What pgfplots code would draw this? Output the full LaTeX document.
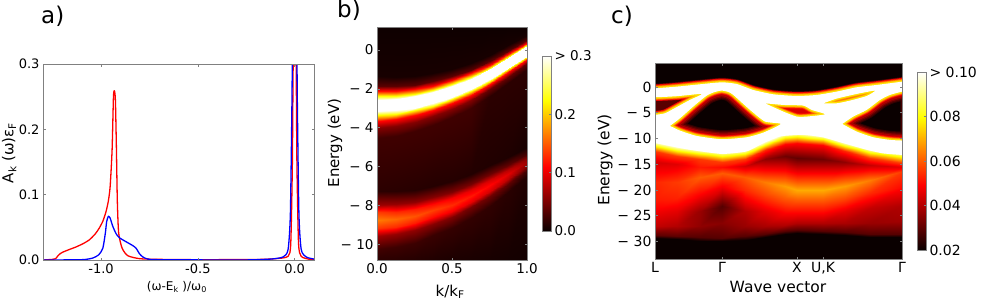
\documentclass[border=0pt]{standalone}
\usepackage{fontspec}
\setmainfont{DejaVu Sans}
\usepackage{pgfplots}
\usepackage{pgfplotstable}
\pgfplotsset{compat=1.18}
\definecolor{frame}{HTML}{808080}
\definecolor{g1}{HTML}{300000}
\definecolor{g2}{HTML}{500000}
\definecolor{g3}{HTML}{800000}
\definecolor{g4}{HTML}{B00000}
\definecolor{g5}{HTML}{F00000}
\definecolor{g55}{HTML}{FF4000}
\definecolor{g6}{HTML}{FF8000}
\definecolor{g65}{HTML}{FFB000}
\definecolor{g7}{HTML}{FFE000}
\pgfplotsset{
 colormap={hotm}{rgb255(0pt)=(10,0,0); rgb255(93pt)=(255,0,0); rgb255(190pt)=(255,255,0); rgb255(255pt)=(255,255,255)},
 every axis/.append style={scale only axis, axis line style={frame,line width=1pt}, tick style={frame,line width=0.7pt}, tick align=inside, major tick length=2.5pt, axis on top},
}
% panel c: outline of the saturated band structure (outer contour and its holes)
\pgfplotstableread{
x y
-6 -0.3
0.7 -0.26
21.7 0.06
45 0.52
66.7 0.9
81.7 0.58
98.3 -0.58
118.3 -1.42
141.7 -1.75
161.7 -1.55
181.7 -0.9
201.7 -0.06
221.7 0.39
247.3 1.03
254 1.1
254 -13.4
247 -13.2
228.3 -12.9
211.7 -12.2
188.3 -10.9
168.3 -9.8
148.3 -9.3
125 -9.6
108.3 -10.9
91.7 -12.5
66.7 -13.0
35 -12.2
18.3 -11.6
0.7 -10.9
-6 -10.5
-6 -0.3
nan nan
-6 -1.9
0.7 -2.0
21.7 -1.8
46.7 -1.36
35 -2.5
21.7 -3.9
10 -5.1
0.7 -5.4
-6 -5.5
-6 -1.9
nan nan
15 -7.56
25 -6.08
38.3 -3.8
51.7 -1.68
60 -0.97
66.7 -0.71
73.3 -0.97
78.3 -1.55
95 -4.46
110 -6.72
125.7 -7.18
108.3 -8.86
91.7 -9.76
66.7 -10.15
41.7 -9.5
25 -8.47
15 -7.56
nan nan
110 -3.17
128.3 -3.49
148.3 -3.62
156.7 -4.46
170 -5.3
151.7 -5.75
141.7 -5.75
128.3 -4.78
110 -3.17
nan nan
168.3 -3.17
181.7 -2.26
201.7 -1.36
220 -0.71
211.7 -1.75
195 -2.65
181.7 -3.17
168.3 -3.17
nan nan
187.3 -7.18
198.3 -5.75
211.7 -4.46
225 -2.52
235 -1.55
247.3 -0.9
254 -0.8
254 -10.4
247.3 -10.4
235 -10.28
218.3 -9.76
201.7 -8.66
187.3 -7.18
}\bandpath
\pgfplotstableread{
x y
15 -7.56
25 -6.08
38.3 -3.8
51.7 -1.68
60 -0.97
66.7 -0.71
73.3 -0.97
78.3 -1.55
95 -4.46
110 -6.72
125.7 -7.18
108.3 -8.86
91.7 -9.76
66.7 -10.15
41.7 -9.5
25 -8.47
15 -7.56
nan nan
187.3 -7.18
198.3 -5.75
211.7 -4.46
225 -2.52
235 -1.55
247.3 -0.9
254 -0.8
254 -10.4
247.3 -10.4
235 -10.28
218.3 -9.76
201.7 -8.66
187.3 -7.18
}\bigholes
\pgfplotstableread{
x y
-6 -1.9
0.7 -2.0
21.7 -1.8
46.7 -1.36
35 -2.5
21.7 -3.9
10 -5.1
0.7 -5.4
-6 -5.5
}\holeA
\pgfplotstableread{
x y
110 -3.17
128.3 -3.49
148.3 -3.62
156.7 -4.46
170 -5.3
151.7 -5.75
141.7 -5.75
128.3 -4.78
}\holeC
\pgfplotstableread{
x y
168.3 -3.17
181.7 -2.26
201.7 -1.36
220 -0.71
211.7 -1.75
195 -2.65
181.7 -3.17
}\holeD
\newcommand\glow[3]{\addplot[draw=#2, line width=#3, no marks, forget plot, smooth, tension=0.35, line join=round, unbounded coords=jump] table {#1};}
\begin{document}
\begin{tikzpicture}
\path[use as bounding box] (0,0) rectangle (981pt,306pt);
%---------------- a
\begin{axis}[at={(43pt,46pt)}, anchor=south west, width=271pt, height=196pt,
 xmin=-1.3, xmax=0.1, ymin=0, ymax=0.3,
 xtick={-1,-0.5,0}, xticklabels={-1.0,-0.5,0.0},
 ytick={0,0.1,0.2,0.3}, yticklabels={0.0,0.1,0.2,0.3},
 tick label style={font=\fontsize{13}{15}\selectfont},
 xlabel={(ω-E\textsubscript{k} )/ω\textsubscript{0}}, ylabel={A\textsubscript{k} (ω)ε\textsubscript{F}},
 label style={font=\fontsize{12}{14}\selectfont},
 xlabel style={at={(axis description cs:0.494,-0.138)}, anchor=center},
 ylabel style={at={(axis description cs:-0.125,0.546)}, anchor=center, font=\fontsize{15}{17}\selectfont}]
\addplot[red, line width=1.3pt, line join=round, smooth, tension=0.4] coordinates {
(-1.3,0)(-1.25,0.001)(-1.235,0.002)(-1.224,0.006)(-1.21,0.010)(-1.198,0.012)(-1.165,0.016)(-1.129,0.02)(-1.09,0.0255)(-1.06,0.031)(-1.03,0.040)(-1.009,0.049)(-0.99,0.060)(-0.974,0.0745)(-0.962,0.091)(-0.953,0.113)(-0.943,0.169)(-0.936,0.25)(-0.931,0.259)(-0.926,0.245)(-0.921,0.175)(-0.916,0.09)(-0.909,0.041)(-0.891,0.018)(-0.862,0.0066)(-0.8,0.002)(-0.7,0.001)(-0.5,0.0005)(-0.2,0.0008)(-0.1,0.002)(-0.034,0.0056)(-0.02,0.026)(-0.012,0.143)(-0.0086,0.27)(-0.007,0.32)};
\addplot[red, line width=1.3pt, line join=round, smooth, tension=0.4, forget plot] coordinates {
(0.007,0.32)(0.0086,0.27)(0.012,0.143)(0.02,0.026)(0.034,0.0056)(0.078,0.001)(0.1,0.0005)};
\addplot[blue, line width=1.3pt, line join=round, smooth, tension=0.4] coordinates {
(-1.3,0)(-1.1,0.0005)(-1.043,0.003)(-1.012,0.008)(-0.991,0.018)(-0.978,0.041)(-0.971,0.059)(-0.962,0.067)(-0.953,0.064)(-0.94,0.052)(-0.922,0.04)(-0.905,0.034)(-0.871,0.028)(-0.836,0.022)(-0.819,0.018)(-0.802,0.0097)(-0.784,0.0046)(-0.759,0.0015)(-0.7,0.0005)(-0.3,0)(-0.2,0.0005)(-0.12,0.0015)(-0.06,0.0046)(-0.034,0.016)(-0.022,0.072)(-0.0138,0.245)(-0.012,0.32)};
\addplot[blue, line width=1.3pt, line join=round, smooth, tension=0.4, forget plot] coordinates {
(0.012,0.32)(0.0138,0.245)(0.022,0.072)(0.034,0.016)(0.06,0.0046)(0.1,0.0015)};
\end{axis}
%---------------- b
\begin{axis}[at={(377pt,46pt)}, anchor=south west, width=150pt, height=233pt,
 xmin=0, xmax=1, ymin=-10.8, ymax=1.18,
 xtick={0,0.5,1}, xticklabels={0.0,0.5,1.0},
 ytick={-10,-8,-6,-4,-2,0}, yticklabels={− 10,− 8,− 6,− 4,− 2,0},
 tick label style={font=\fontsize{13.5}{15}\selectfont},
 xlabel={k/k\textsubscript{F}}, ylabel={Energy (eV)},
 label style={font=\fontsize{15}{17}\selectfont},
 xlabel style={at={(axis description cs:0.487,-0.137)}, anchor=center},
 ylabel style={at={(axis description cs:-0.28,0.502)}, anchor=center},
 colormap name=hotm, point meta min=0, point meta max=0.3,
 colorbar, colorbar style={at={(1.1,0.8755)}, anchor=north west, width=9pt, height=175pt,
  ytick={0,0.1,0.2,0.3}, yticklabels={0.0,0.1,0.2,> 0.3}, ytick pos=right, yticklabel pos=right,
  tick label style={font=\fontsize{13.5}{15}\selectfont}, major tick length=2pt}]
\addplot[surf, shader=interp, mesh/ordering=y varies, point meta=explicit] table[meta=v] {
x y v
0 1.2 0.002
0 -1.35 0.006
0 -1.85 0.036
0 -2.10 0.114
0 -2.37 0.225
0 -2.55 0.3
0 -3.15 0.3
0 -3.35 0.225
0 -3.63 0.114
0 -4.0 0.054
0 -4.55 0.024
0 -7.25 0.015
0 -7.95 0.066
0 -8.35 0.135
0 -8.75 0.165
0 -9.15 0.135
0 -9.55 0.066
0 -10.25 0.025
0 -10.8 0.015

0.125 1.2 0.002
0.125 -1.39 0.006
0.125 -1.86 0.036
0.125 -2.10 0.114
0.125 -2.35 0.225
0.125 -2.51 0.3
0.125 -3.11 0.3
0.125 -3.28 0.225
0.125 -3.54 0.114
0.125 -3.89 0.054
0.125 -4.41 0.024
0.125 -7.27 0.014
0.125 -7.94 0.062
0.125 -8.32 0.128
0.125 -8.7 0.156
0.125 -9.08 0.128
0.125 -9.46 0.062
0.125 -10.13 0.023
0.125 -10.8 0.014

0.25 1.2 0.002
0.25 -1.34 0.006
0.25 -1.78 0.036
0.25 -2.0 0.114
0.25 -2.24 0.225
0.25 -2.37 0.3
0.25 -2.97 0.3
0.25 -3.11 0.225
0.25 -3.36 0.114
0.25 -3.69 0.054
0.25 -4.18 0.024
0.25 -7.2 0.013
0.25 -7.83 0.059
0.25 -8.19 0.121
0.25 -8.55 0.147
0.25 -8.91 0.121
0.25 -9.27 0.059
0.25 -9.9 0.022
0.25 -10.8 0.012

0.375 1.2 0.002
0.375 -1.2 0.006
0.375 -1.62 0.036
0.375 -1.83 0.114
0.375 -2.05 0.225
0.375 -2.15 0.3
0.375 -2.75 0.3
0.375 -2.87 0.225
0.375 -3.10 0.114
0.375 -3.41 0.054
0.375 -3.86 0.024
0.375 -6.97 0.012
0.375 -7.57 0.055
0.375 -7.91 0.113
0.375 -8.25 0.138
0.375 -8.59 0.113
0.375 -8.93 0.055
0.375 -9.53 0.021
0.375 -10.8 0.01

0.5 1.2 0.002
0.5 -0.98 0.006
0.5 -1.36 0.036
0.5 -1.56 0.114
0.5 -1.77 0.225
0.5 -1.86 0.3
0.5 -2.42 0.3
0.5 -2.53 0.225
0.5 -2.74 0.114
0.5 -3.03 0.054
0.5 -3.46 0.024
0.5 -6.75 0.012
0.5 -7.31 0.052
0.5 -7.63 0.106
0.5 -7.95 0.129
0.5 -8.27 0.106
0.5 -8.59 0.052
0.5 -9.15 0.019
0.5 -10.8 0.008

0.625 1.2 0.002
0.625 -0.66 0.006
0.625 -1.02 0.036
0.625 -1.2 0.114
0.625 -1.39 0.225
0.625 -1.48 0.3
0.625 -2.0 0.3
0.625 -2.1 0.225
0.625 -2.3 0.114
0.625 -2.57 0.054
0.625 -2.96 0.024
0.625 -6.37 0.011
0.625 -6.9 0.048
0.625 -7.2 0.098
0.625 -7.5 0.12
0.625 -7.8 0.098
0.625 -8.1 0.048
0.625 -8.63 0.018
0.625 -10.8 0.007

0.75 1.2 0.002
0.75 -0.25 0.006
0.75 -0.59 0.036
0.75 -0.75 0.114
0.75 -0.93 0.225
0.75 -1.0 0.3
0.75 -1.5 0.3
0.75 -1.58 0.225
0.75 -1.77 0.114
0.75 -2.01 0.04
0.75 -2.38 0.015
0.75 -5.9 0.01
0.75 -6.39 0.044
0.75 -6.67 0.091
0.75 -6.95 0.111
0.75 -7.23 0.091
0.75 -7.51 0.044
0.75 -8.0 0.017
0.75 -10.8 0.006

0.875 1.2 0.002
0.875 0.24 0.006
0.875 -0.06 0.036
0.875 -0.22 0.114
0.875 -0.38 0.225
0.875 -0.43 0.3
0.875 -0.91 0.3
0.875 -0.97 0.225
0.875 -1.14 0.114
0.875 -1.37 0.04
0.875 -1.7 0.015
0.875 -5.5 0.009
0.875 -5.92 0.038
0.875 -6.16 0.079
0.875 -6.4 0.096
0.875 -6.64 0.079
0.875 -6.88 0.038
0.875 -7.3 0.014
0.875 -10.8 0.005

1 1.2 0.002
1 0.78 0.006
1 0.5 0.036
1 0.37 0.114
1 0.27 0.225
1 0.21 0.3
1 -0.31 0.3
1 -0.37 0.225
1 -0.48 0.114
1 -0.68 0.04
1 -0.99 0.015
1 -5.0 0.006
1 -5.35 0.026
1 -5.55 0.054
1 -5.75 0.066
1 -5.95 0.054
1 -6.15 0.026
1 -6.5 0.01
1 -10.8 0.004
};
\end{axis}
%---------------- c
\begin{axis}[at={(655pt,47pt)}, anchor=south west, width=247pt, height=196pt,
 xmin=0, xmax=247, ymin=-33.4, ymax=4.65,
 axis background/.style={fill={rgb,255:red,10;green,0;blue,0}},
 xtick={0,67,142,168,247}, xticklabels={L,Γ,X,{U,K},Γ},
 ytick={-30,-25,-20,-15,-10,-5,0}, yticklabels={− 30,− 25,− 20,− 15,− 10,− 5,0},
 tick label style={font=\fontsize{14}{16}\selectfont},
 xlabel={Wave vector}, ylabel={Energy (eV)},
 label style={font=\fontsize{15.5}{17}\selectfont},
 xlabel style={at={(axis description cs:0.498,-0.143)}, anchor=center},
 ylabel style={at={(axis description cs:-0.202,0.505)}, anchor=center},
 colormap name=hotm, point meta min=0.02, point meta max=0.1,
 colorbar, colorbar style={at={(1.0607,0.954)}, anchor=north west, width=9pt, height=178pt,
  ytick={0.02,0.04,0.06,0.08,0.1}, yticklabels={0.02,0.04,0.06,0.08,> 0.10}, ytick pos=right, yticklabel pos=right,
  tick label style={font=\fontsize{14}{16}\selectfont}, major tick length=2pt}]
% dim halo on all contours
\glow{\bandpath}{g2}{9pt}
% wider halo in the two big pockets
\glow{\bigholes}{g1}{18pt}
\glow{\bigholes}{g2}{16pt}
\glow{\bigholes}{g3}{13.5pt}
\glow{\bigholes}{g4}{11pt}
% interior colours of the small pockets
\addplot[fill=red!35!black, draw=none, forget plot] table {\holeA} -- cycle;
\addplot[fill=red!85!black, draw=none, forget plot] table {\holeC} -- cycle;
\addplot[fill=red!80!black, draw=none, forget plot] table {\holeD} -- cycle;
% bright edge
\glow{\bandpath}{g5}{7.5pt}
\glow{\bandpath}{g55}{5.8pt}
\glow{\bandpath}{g6}{4.6pt}
\glow{\bandpath}{g65}{3.6pt}
\glow{\bandpath}{g7}{2.4pt}
% lower continuum
\addplot[surf, shader=interp, mesh/ordering=y varies, point meta=explicit] table[meta=v] {
x y v
-1 -10.4 0.1
-1 -12.4 0.056
-1 -14.5 0.044
-1 -18.5 0.0536
-1 -22 0.052
-1 -24 0.048
-1 -27 0.042
-1 -28.7 0.03
-1 -29.3 0.02
-1 -33.5 0.02

22 -11.4 0.1
22 -13.4 0.056
22 -15 0.0456
22 -18.5 0.056
22 -21.5 0.053
22 -24 0.046
22 -27 0.04
22 -29 0.03
22 -29.6 0.02
22 -33.5 0.02

45 -12 0.1
45 -14 0.056
45 -15.5 0.052
45 -17.5 0.06
45 -20.5 0.05
45 -24 0.037
45 -27 0.036
45 -29.2 0.029
45 -29.9 0.02
45 -33.5 0.02

67 -12.5 0.1
67 -14.6 0.056
67 -15.5 0.0504
67 -16.8 0.06
67 -19.5 0.048
67 -23.2 0.029
67 -26.5 0.035
67 -29.3 0.029
67 -30 0.02
67 -33.5 0.02

90 -12 0.1
90 -14 0.056
90 -15.4 0.044
90 -17.5 0.06
90 -20 0.054
90 -24 0.04
90 -27 0.037
90 -29 0.029
90 -29.7 0.02
90 -33.5 0.02

110 -10.4 0.1
110 -12.2 0.0536
110 -14 0.036
110 -18.5 0.064
110 -21 0.057
110 -24 0.046
110 -27 0.039
110 -28.5 0.029
110 -29.2 0.02
110 -33.5 0.02

130 -9 0.1
130 -11 0.05
130 -13.5 0.032
130 -19.3 0.068
130 -21.5 0.06
130 -24.5 0.049
130 -26.8 0.04
130 -28 0.029
130 -28.6 0.02
130 -33.5 0.02

142 -8.8 0.1
142 -10.8 0.05
142 -13.8 0.0304
142 -20 0.0696
142 -22 0.06
142 -24.5 0.049
142 -26.5 0.04
142 -27.8 0.029
142 -28.4 0.02
142 -33.5 0.02

168 -9.3 0.1
168 -11.3 0.05
168 -14 0.032
168 -20 0.0696
168 -22 0.06
168 -24.5 0.049
168 -26.5 0.04
168 -27.9 0.029
168 -28.5 0.02
168 -33.5 0.02

190 -10.6 0.1
190 -12.5 0.0536
190 -14.5 0.036
190 -19.3 0.068
190 -21.5 0.058
190 -24 0.046
190 -26.5 0.039
190 -28.2 0.029
190 -28.8 0.02
190 -33.5 0.02

215 -11.9 0.1
215 -13.8 0.056
215 -15.2 0.0424
215 -18 0.064
215 -20.5 0.054
215 -23.5 0.042
215 -26.5 0.037
215 -28.5 0.029
215 -29.2 0.02
215 -33.5 0.02

248 -12.7 0.1
248 -14.7 0.056
248 -15.6 0.0464
248 -16.4 0.056
248 -19.5 0.05
248 -23 0.04
248 -26 0.038
248 -28.5 0.029
248 -29.2 0.02
248 -33.5 0.02
};
\addplot[fill=white, draw=none, even odd rule, smooth, tension=0.35, unbounded coords=jump, forget plot] table {\bandpath};
\end{axis}
\node[anchor=base west, inner sep=0pt, font=\fontsize{23}{25}\selectfont] at (41pt,283pt) {a)};
\node[anchor=base west, inner sep=0pt, font=\fontsize{23}{25}\selectfont] at (337pt,288pt) {b)};
\node[anchor=base west, inner sep=0pt, font=\fontsize{23}{25}\selectfont] at (611pt,283pt) {c)};
\end{tikzpicture}
\end{document}
